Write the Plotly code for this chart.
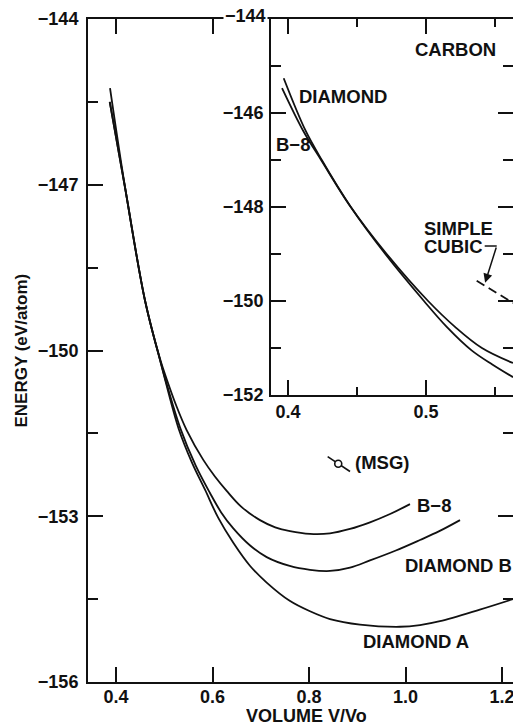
import plotly.graph_objects as go

# ---------------- data ----------------
# Main panel: energy (eV/atom) vs volume V/Vo
b8_v = [0.387, 0.4187, 0.460, 0.4912, 0.5051, 0.5250, 0.5464, 0.5809, 0.6050, 0.6294, 0.6600,
        0.6984, 0.7300, 0.7606, 0.8021, 0.8435, 0.8850, 0.9264, 0.9680, 1.0093]
b8_e = [-145.50, -147.05, -149.09, -150.15, -150.52, -151.00, -151.44, -151.98, -152.28, -152.54, -152.83,
        -153.07, -153.20, -153.27, -153.32, -153.31, -153.23, -153.11, -152.96, -152.78]

diab_v = [0.387, 0.4187, 0.460, 0.4912, 0.5016, 0.533, 0.565, 0.5948, 0.6180, 0.6431, 0.6780, 0.7123,
          0.7600, 0.8021, 0.8435, 0.8850, 0.9264, 0.9800, 1.0300, 1.0700, 1.1130]
diab_e = [-145.50, -147.05, -149.09, -150.17, -150.50, -151.40, -152.08, -152.58, -152.93, -153.22, -153.53, -153.74,
          -153.90, -153.97, -153.99, -153.93, -153.80, -153.62, -153.43, -153.27, -153.07]

diaa_v = [0.3876, 0.4187, 0.460, 0.4912, 0.4974, 0.530, 0.5570, 0.5845, 0.6120, 0.6431, 0.6780, 0.7123, 0.7600,
          0.8021, 0.8435, 0.9057, 0.9886, 1.0300, 1.0715, 1.1540, 1.2228]
diaa_e = [-145.25, -147.04, -149.09, -150.17, -150.38, -151.42, -152.02, -152.52, -153.03, -153.48, -153.90, -154.20, -154.53,
          -154.72, -154.86, -154.96, -155.00, -154.97, -154.90, -154.69, -154.50]

# experimental point (MSG) with its error bar
msg_v = [0.8606]
msg_e = [-152.05]
msg_bar_v = [0.8387, 0.8850]
msg_bar_e = [-151.92, -152.19]

# Inset: enlarged small-volume region
in_dia_v = [0.3969, 0.4125, 0.4245, 0.4455, 0.4705, 0.4985, 0.5150, 0.5330, 0.5480, 0.5630]
in_dia_e = [-145.26, -146.36, -147.00, -148.00, -149.00, -150.00, -150.55, -151.05, -151.35, -151.62]

in_b8_v = [0.3957, 0.4114, 0.4240, 0.4455, 0.4715, 0.5015, 0.5210, 0.5405, 0.5630]
in_b8_e = [-145.47, -146.40, -147.00, -148.00, -149.00, -150.00, -150.55, -151.00, -151.32]

in_sc_v = [0.5367, 0.5630]
in_sc_e = [-149.57, -150.04]

# axis ticks
main_x_ticks = [0.4, 0.6, 0.8, 1.0, 1.2]
main_y_ticks = [-156, -153, -150, -147, -144]
inset_x_ticks = [0.4, 0.5, 0.6]
inset_y_ticks = [-152, -150, -148, -146, -144]
inset_y_text = ["\u2212152", "\u2212150", "\u2212148", "\u2212146", ""]

# ---------------- figure ----------------
W, H = 513, 727
ML, MR, MT, MB = 88, 0, 19, 45
FONT = "Liberation Sans, Arial, Helvetica, sans-serif"
BLACK = "#111111"

fig = go.Figure()

line_style = dict(color=BLACK, width=1.8, shape="spline", smoothing=1.0)

for v, e in [(b8_v, b8_e), (diab_v, diab_e), (diaa_v, diaa_e)]:
    fig.add_trace(go.Scatter(x=v, y=e, mode="lines", line=line_style,
                             xaxis="x", yaxis="y", hoverinfo="skip", showlegend=False))

fig.add_trace(go.Scatter(x=msg_bar_v, y=msg_bar_e, mode="lines",
                         line=dict(color=BLACK, width=1.6),
                         xaxis="x", yaxis="y", showlegend=False, hoverinfo="skip"))
fig.add_trace(go.Scatter(x=msg_v, y=msg_e, mode="markers",
                         marker=dict(symbol="circle", size=7, color="white",
                                     line=dict(color=BLACK, width=1.6)),
                         xaxis="x", yaxis="y", showlegend=False, hoverinfo="skip"))

for v, e in [(in_dia_v, in_dia_e), (in_b8_v, in_b8_e)]:
    fig.add_trace(go.Scatter(x=v, y=e, mode="lines", line=line_style,
                             xaxis="x2", yaxis="y2", hoverinfo="skip", showlegend=False))

fig.add_trace(go.Scatter(x=in_sc_v, y=in_sc_e, mode="lines",
                         line=dict(color=BLACK, width=1.8, dash="9px,5px"),
                         xaxis="x2", yaxis="y2", hoverinfo="skip", showlegend=False))

tickfont = dict(family=FONT, size=18, color=BLACK, weight="bold")
plot_w = W - ML - MR
plot_h = H - MT - MB

# inset domain from pixel geometry
in_left_px, in_bottom_px = 271, 395
in_dom_x = [(in_left_px - ML) / plot_w, 1.0]
in_dom_y = [(H - MB - in_bottom_px) / plot_h, 1.0]

axis_common = dict(showgrid=False, zeroline=False, showline=True, linecolor=BLACK,
                   linewidth=2, ticks="inside", tickcolor=BLACK, tickwidth=2,
                   mirror="ticks", tickfont=tickfont, automargin=False,
                   ticklabeloverflow="allow")

fig.update_layout(
    width=W, height=H, autosize=False,
    margin=dict(l=ML, r=MR, t=MT, b=MB, pad=0),
    paper_bgcolor="white", plot_bgcolor="white",
    showlegend=False,
    xaxis=dict(axis_common, domain=[0, 1], range=[0.34197, 1.2228],
               tickmode="array", tickvals=main_x_ticks,
               ticktext=["0.4", "0.6", "0.8", "1.0", "1.2"], ticklen=15,
               ticklabelstandoff=-3, anchor="y"),
    yaxis=dict(axis_common, domain=[0, 1], range=[-156, -144],
               tickmode="array", tickvals=main_y_ticks, ticklen=15,
               minor=dict(dtick=1.5, tick0=-156, ticks="inside", ticklen=10,
                          tickwidth=2, tickcolor=BLACK, showgrid=False),
               ticklabelstandoff=4, anchor="x"),
    xaxis2=dict(axis_common, domain=in_dom_x, range=[0.3877, 0.5630],
                tickmode="array", tickvals=inset_x_ticks, ticktext=["0.4", "0.5", "0.6"],
                ticklen=15,
                minor=dict(dtick=0.05, tick0=0.4, ticks="inside", ticklen=8,
                           tickwidth=2, tickcolor=BLACK, showgrid=False),
                ticklabelstandoff=-1, anchor="y2"),
    yaxis2=dict(axis_common, domain=in_dom_y, range=[-152, -144],
                tickmode="array", tickvals=inset_y_ticks, ticktext=inset_y_text,
                ticklen=15,
                minor=dict(dtick=1, tick0=-152, ticks="inside", ticklen=10,
                           tickwidth=2, tickcolor=BLACK, showgrid=False),
                ticklabelstandoff=2, anchor="x2"),
)

lab = dict(family=FONT, size=18.5, color=BLACK, weight="bold")


def ann(text, x, y, xref="x", yref="y", xanchor="left", yanchor="middle", **kw):
    fig.add_annotation(text=text, x=x, y=y, xref=xref, yref=yref, xanchor=xanchor,
                       yanchor=yanchor, showarrow=False, font=lab, **kw)


# main panel labels
ann("B\u22128", 1.0197, -152.80)
ann("DIAMOND B", 0.9950, -153.89)
ann("DIAMOND A", 1.0218, -155.27, xanchor="center")
ann("(MSG)", 0.8912, -152.02)

# inset labels
ann("CARBON", 0.521, -144.64, xref="x2", yref="y2", xanchor="center")
ann("DIAMOND", 0.4065, -145.64, xref="x2", yref="y2")
ann("B\u22128", 0.3899, -146.68, xref="x2", yref="y2")
ann("SIMPLE", 0.4978, -148.45, xref="x2", yref="y2", height=17, borderpad=0)
ann("CUBIC", 0.4978, -148.85, xref="x2", yref="y2", height=17, borderpad=0)

# inset top tick label, drawn over the main frame line
fig.add_annotation(text="\u2212144", x=(268 - ML) / plot_w, y=(H - MB - 16) / plot_h,
                   xref="paper", yref="paper", xanchor="right", yanchor="middle",
                   showarrow=False, font=tickfont, bgcolor="white", borderpad=1)

# pointer from "CUBIC" to the simple cubic curve
fig.add_shape(type="line", xref="x2", yref="y2", x0=0.5425, y0=-148.83, x1=0.5512, y1=-148.83,
              line=dict(color=BLACK, width=1.5))
fig.add_annotation(x=0.5428, y=-149.61, xref="x2", yref="y2", ax=0.5512, ay=-148.83,
                   axref="x2", ayref="y2", text="", showarrow=True, arrowhead=2,
                   arrowsize=1.2, arrowwidth=1.5, arrowcolor=BLACK, standoff=0)

# axis titles
fig.add_annotation(text="ENERGY (eV/atom)", x=(21 - ML) / plot_w, y=0.5, xref="paper",
                   yref="paper", textangle=-90, showarrow=False, xanchor="center",
                   yanchor="middle", font=dict(family=FONT, size=17, color=BLACK, weight="bold"))
fig.add_annotation(text="VOLUME V/Vo", x=(306 - ML) / plot_w, y=-(716 - (H - MB)) / plot_h,
                   xref="paper", yref="paper", showarrow=False, xanchor="center",
                   yanchor="middle", height=20, borderpad=0,
                   font=dict(family=FONT, size=18, color=BLACK, weight="bold"))

fig.write_html("out.html", config={"displayModeBar": False},
               post_script="document.body.style.margin='0';document.body.style.overflow='hidden';")
